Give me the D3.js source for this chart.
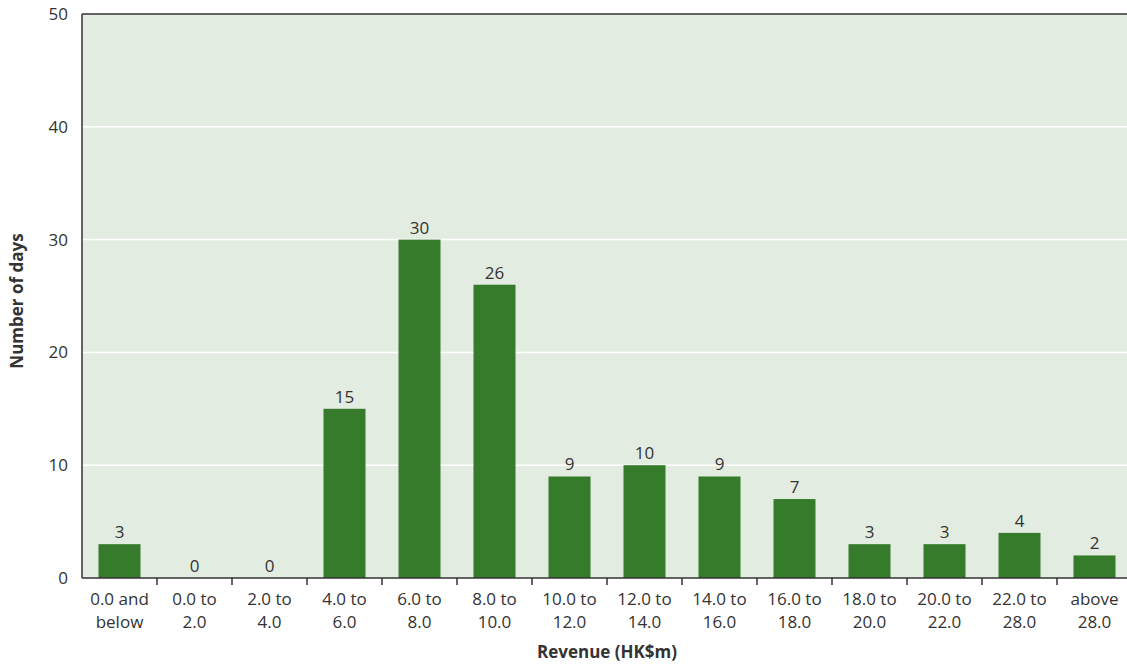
<!DOCTYPE html>
<html><head><meta charset="utf-8">
<script src="https://cdn.jsdelivr.net/npm/d3@7"></script>
<style>body{margin:0;background:#fff;} svg{display:block;}</style>
</head><body>
<svg id="chart" width="1127" height="664"></svg>
<script>
const categories = [["0.0 and","below"],["0.0 to","2.0"],["2.0 to","4.0"],["4.0 to","6.0"],["6.0 to","8.0"],["8.0 to","10.0"],["10.0 to","12.0"],["12.0 to","14.0"],["14.0 to","16.0"],["16.0 to","18.0"],["18.0 to","20.0"],["20.0 to","22.0"],["22.0 to","28.0"],["above","28.0"]];
const values = [3,0,0,15,30,26,9,10,9,7,3,3,4,2];
const yTicks = [0,10,20,30,40,50];
const xTitle = "Revenue (HK$m)";
const yTitle = "Number of days";

(function(){
const svg = d3.select("#chart");
const mLeft = 82, mRight = 1132, mTop = 14, mBottom = 578;
const font = "'Open Sans', 'Noto Sans', sans-serif";
const textColor = "#333";

const x = d3.scaleBand().domain(d3.range(categories.length)).range([mLeft, mRight]).paddingInner(0.44).paddingOuter(0.22);
const xb = d3.scaleBand().domain(d3.range(categories.length)).range([mLeft, mRight]);
const y = d3.scaleLinear().domain([0, 50]).range([mBottom, mTop]);

svg.append("rect").attr("x", mLeft).attr("y", mTop).attr("width", mRight - mLeft).attr("height", mBottom - mTop).attr("fill", "#e3ece0");

svg.append("g").selectAll("line").data(yTicks.filter(d => d > 0 && d < 50)).join("line")
  .attr("x1", mLeft).attr("x2", mRight).attr("y1", d => y(d)).attr("y2", d => y(d))
  .attr("stroke", "#fff").attr("stroke-width", 1.5);

svg.append("g").selectAll("rect").data(values).join("rect")
  .attr("x", (d, i) => x(i)).attr("width", x.bandwidth())
  .attr("y", d => y(d)).attr("height", d => y(0) - y(d))
  .attr("fill", "#367b2c");

svg.append("g").selectAll("text").data(values).join("text")
  .attr("x", (d, i) => x(i) + x.bandwidth() / 2).attr("y", d => y(d) - 6)
  .attr("text-anchor", "middle").attr("font-family", font).attr("font-size", 17).attr("fill", textColor)
  .text(d => d);

svg.append("line").attr("x1", mLeft).attr("x2", mRight).attr("y1", mTop).attr("y2", mTop).attr("stroke", "#333").attr("stroke-width", 1.5);
svg.append("line").attr("x1", mLeft).attr("x2", mLeft).attr("y1", mTop).attr("y2", mBottom).attr("stroke", "#333").attr("stroke-width", 1.5);
svg.append("line").attr("x1", mLeft).attr("x2", mRight).attr("y1", mBottom).attr("y2", mBottom).attr("stroke", "#333").attr("stroke-width", 1.5);

svg.append("g").selectAll("line").data(d3.range(1, categories.length)).join("line")
  .attr("x1", i => xb(i)).attr("x2", i => xb(i)).attr("y1", mBottom).attr("y2", mBottom + 7)
  .attr("stroke", "#333").attr("stroke-width", 1.5);

svg.append("g").selectAll("text").data(yTicks).join("text")
  .attr("x", 68).attr("y", d => y(d)).attr("dy", "0.35em")
  .attr("text-anchor", "end").attr("font-family", font).attr("font-size", 17).attr("fill", textColor)
  .text(d => d);

const xl = svg.append("g").selectAll("text").data(categories).join("text")
  .attr("x", (d, i) => xb(i) + xb.bandwidth() / 2).attr("y", 605)
  .attr("text-anchor", "middle").attr("font-family", font).attr("font-size", 17).attr("fill", textColor);
xl.each(function(d, i) {
  const t = d3.select(this);
  const cx = xb(i) + xb.bandwidth() / 2;
  t.append("tspan").attr("x", cx).attr("dy", 0).text(d[0]);
  t.append("tspan").attr("x", cx).attr("dy", 23).text(d[1]);
});

svg.append("text").attr("x", (mLeft + mRight) / 2).attr("y", 658)
  .attr("text-anchor", "middle").attr("font-family", font).attr("font-size", 17).attr("font-weight", "bold").attr("fill", textColor)
  .text(xTitle);

svg.append("text").attr("transform", `translate(23, ${(mTop + mBottom) / 2 + 5}) rotate(-90)`)
  .attr("text-anchor", "middle").attr("font-family", font).attr("font-size", 17).attr("font-weight", "bold").attr("fill", textColor)
  .text(yTitle);
})();
</script>
</body></html>
